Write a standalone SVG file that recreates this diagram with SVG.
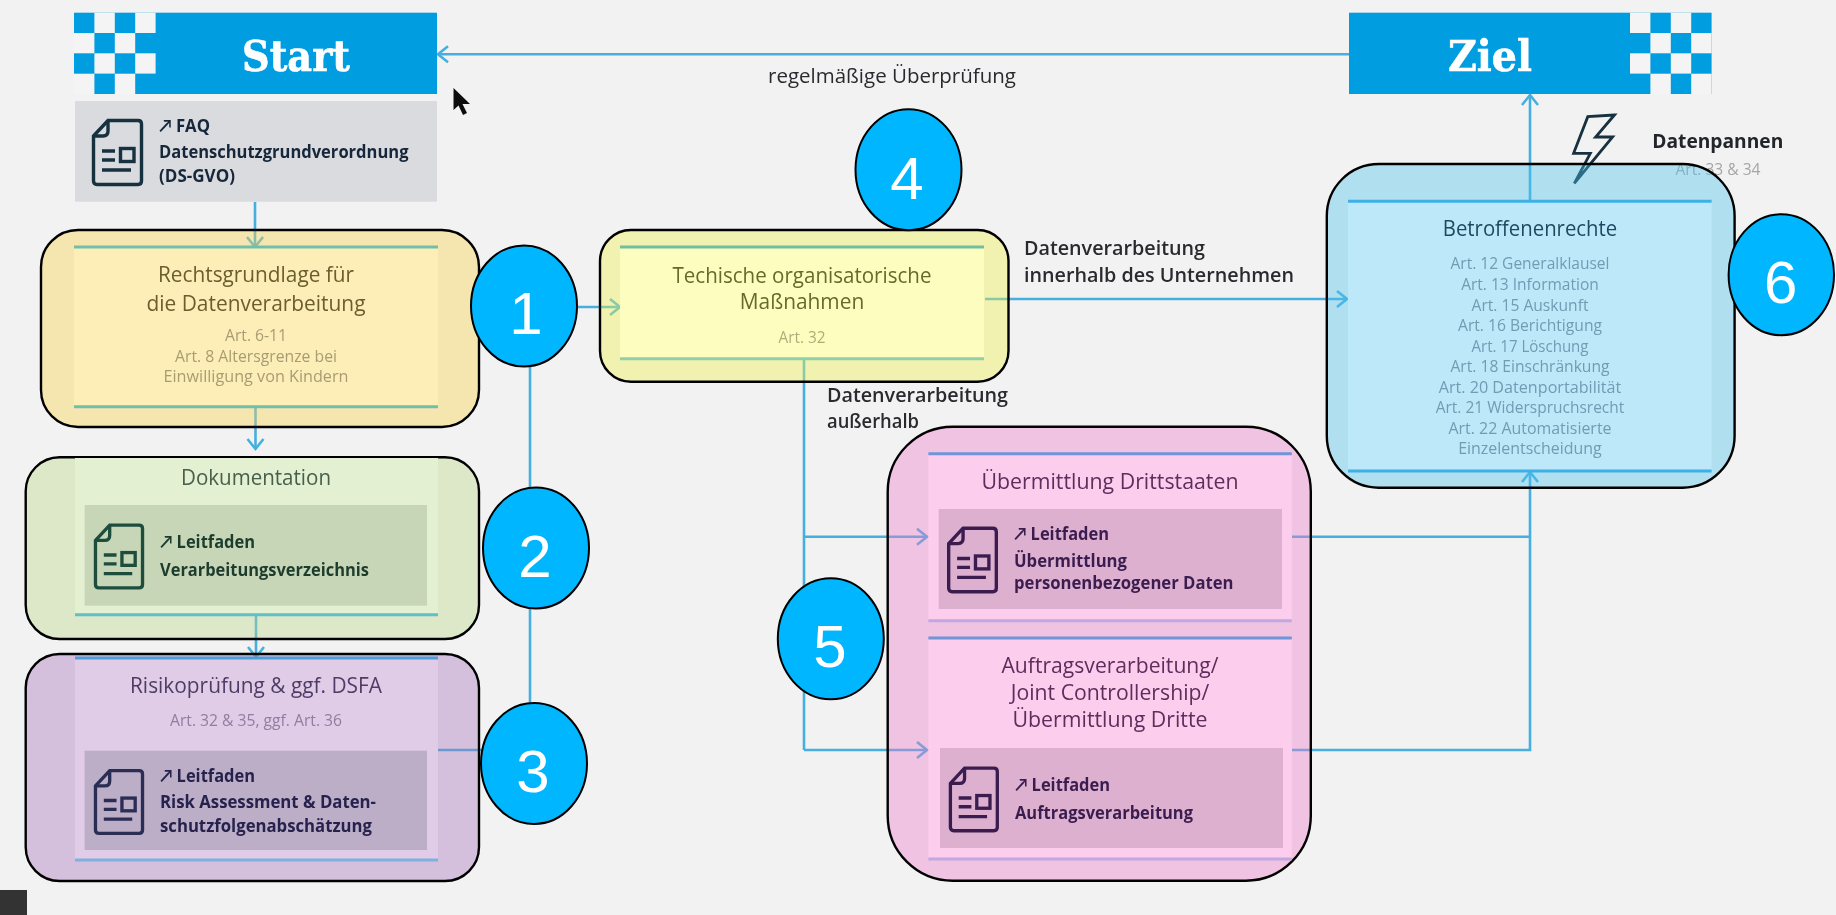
<svg xmlns="http://www.w3.org/2000/svg" xmlns:xlink="http://www.w3.org/1999/xlink" width="1836" height="915" viewBox="0 0 1836 915">
<style>
text{font-family:"Open Sans",Lato,"DejaVu Sans",sans-serif}
.soft{filter:url(#soft)}
.brand{font-family:"DejaVu Serif",serif;font-weight:700;font-size:42px;fill:#fff;stroke:#fff;stroke-width:0.6;text-anchor:middle}
.title{font-size:21px;font-weight:500;text-anchor:middle}
.art{font-size:16px;text-anchor:middle}
.link{font-size:18px;font-weight:700}
.lab{font-size:19px;font-weight:600;fill:#2b2b2f}
.num{font-family:"Liberation Sans",sans-serif;font-size:60px;fill:#fff;text-anchor:middle}
.badge{fill:#00b6ff;stroke:#000;stroke-width:2}
.shell{stroke:#000;stroke-width:2.4}
.conn{fill:none;stroke:#45b0e0;stroke-width:2.6}
.arr{marker-end:url(#chev)}
.rule{stroke-width:3;fill:none}
.icon{fill:none;stroke:currentColor;stroke-width:3.4}
.band{fill:#009de0}
.chk{fill:#f4f4f4}
</style>
<defs>
<filter id="soft" x="-5%" y="-5%" width="110%" height="110%"><feGaussianBlur stdDeviation="0.7"/></filter>
<marker id="chev" markerUnits="userSpaceOnUse" markerWidth="24" markerHeight="24" refX="13" refY="12" orient="auto" overflow="visible">
<path d="M3 4 L13 12 L3 20" fill="none" stroke="#45b0e0" stroke-width="2.6"/>
</marker>
<symbol id="doc" viewBox="0 0 51 67" overflow="visible">
<path class="icon" d="M16 1.5H46Q49.5 1.5 49.5 5V62Q49.5 65.5 46 65.5H5Q1.5 65.5 1.5 62V17Z"/>
<path class="icon" d="M16 1.5V12Q16 17 11 17H1.5"/>
<path class="icon" d="M10 32H23M10 41H23M10 51H39"/>
<rect class="icon" x="28.5" y="29.5" width="13.5" height="13"/>
</symbol>
</defs>
<rect width="1836" height="915" fill="#f2f2f2"/>

<g id="connectors" class="soft">
<path class="conn arr" d="M1349 54.3H438"/>
<path class="conn arr" d="M255 202V247"/>
<path class="conn arr" d="M255.500 407V449"/>
<path class="conn arr" d="M256 615V657"/>
<path class="conn arr" d="M438 750H530V307H620"/>
<path class="conn arr" d="M985 299H1347"/>
<path class="conn" d="M804 359V750"/>
<path class="conn arr" d="M804 536.700H927"/>
<path class="conn arr" d="M804 750H927"/>
<path class="conn" d="M1292 536.700H1530"/>
<path class="conn arr" d="M1292 750H1530V472"/>
<path class="conn arr" d="M1530 201V95"/>
</g>

<g id="start">
<g class="soft">
<rect class="band" x="74" y="12.700" width="363" height="81.300"/>
<g class="chk">
<rect x="94.400" y="12.700" width="20.400" height="20.300"/><rect x="135.200" y="12.700" width="20.400" height="20.300"/>
<rect x="74" y="33" width="20.400" height="20.300"/><rect x="114.800" y="33" width="20.400" height="20.300"/>
<rect x="94.400" y="53.300" width="20.400" height="20.300"/><rect x="135.200" y="53.300" width="20.400" height="20.300"/>
<rect x="74" y="73.700" width="20.400" height="20.300"/><rect x="114.800" y="73.700" width="20.400" height="20.300"/>
</g>
<text class="brand" x="296" y="70.700" textLength="108" lengthAdjust="spacingAndGlyphs">Start</text>
</g>
</g>

<g id="faq" class="soft">
<rect x="75" y="101" width="362" height="100.700" fill="#d9dbde"/>
<use href="#doc" x="92" y="119" width="51" height="67" style="color:#17303f"/>
<g fill="#17263a">
<text class="link" x="159" y="132" textLength="51" lengthAdjust="spacingAndGlyphs">↗ FAQ</text>
<text class="link" x="159" y="158" textLength="249.500" lengthAdjust="spacingAndGlyphs">Datenschutzgrundverordnung</text>
<text class="link" x="159" y="181.700" textLength="76" lengthAdjust="spacingAndGlyphs">(DS-GVO)</text>
</g>
</g>

<g id="node-1">
<rect class="shell" x="41" y="230" width="438" height="197" rx="37" fill="#fad44d" fill-opacity="0.4"/>
<g class="soft">
<rect x="74" y="247" width="364" height="160" fill="#fdeeb8"/>
<path class="rule" stroke="#70bfa8" d="M74 247H438M74 406.700H438"/>
<text class="title" fill="#6b5d2e" x="256" y="281.700" textLength="196" lengthAdjust="spacingAndGlyphs">Rechtsgrundlage für</text>
<text class="title" fill="#6b5d2e" x="256" y="310.700" textLength="219" lengthAdjust="spacingAndGlyphs">die Datenverarbeitung</text>
<g fill="#a89c72">
<text class="art" x="256" y="340.700" textLength="62" lengthAdjust="spacingAndGlyphs">Art. 6-11</text>
<text class="art" x="256" y="361.700" textLength="162" lengthAdjust="spacingAndGlyphs">Art. 8 Altersgrenze bei</text>
<text class="art" x="256" y="382" textLength="185" lengthAdjust="spacingAndGlyphs">Einwilligung von Kindern</text>
</g>
</g>
</g>

<g id="node-2">
<path class="rule soft" stroke="#4db5e0" d="M74 450.700H437"/>
<rect class="shell" x="25.700" y="457.300" width="453.300" height="181.700" rx="34" fill="#bed989" fill-opacity="0.4"/>
<g class="soft">
<rect x="75" y="458" width="363" height="157" fill="#e4f0d2"/>
<path class="rule" stroke="#5fc0c8" d="M75 614.700H438"/>
<rect x="84.600" y="505" width="342.400" height="100.700" fill="#c8d6b8"/>
<text class="title" fill="#46604c" x="256" y="485" textLength="150" lengthAdjust="spacingAndGlyphs">Dokumentation</text>
<use href="#doc" x="94" y="523" width="50" height="67" style="color:#1e4d3c"/>
<g fill="#1f3d2e">
<text class="link" x="160" y="547.700" textLength="95" lengthAdjust="spacingAndGlyphs">↗ Leitfaden</text>
<text class="link" x="160" y="576" textLength="209" lengthAdjust="spacingAndGlyphs">Verarbeitungsverzeichnis</text>
</g>
</g>
</g>

<g id="node-3">
<rect class="shell" x="25.700" y="654" width="453.300" height="227" rx="34" fill="#a775bb" fill-opacity="0.4"/>
<g class="soft">
<rect x="75" y="658" width="363" height="202" fill="#e0cce6"/>
<path class="rule" stroke="#4f9cd8" d="M75 658H438"/>
<path class="rule" stroke="#80b0e0" d="M75 860H438"/>
<rect x="84.600" y="750.700" width="342.400" height="99.300" fill="#bdaec8"/>
<text class="title" fill="#4d3d66" x="256" y="693" textLength="252" lengthAdjust="spacingAndGlyphs">Risikoprüfung &amp; ggf. DSFA</text>
<text class="art" fill="#8f7ea0" x="256" y="726" textLength="172" lengthAdjust="spacingAndGlyphs">Art. 32 &amp; 35, ggf. Art. 36</text>
<use href="#doc" x="94" y="769" width="50" height="66" style="color:#2a2d55"/>
<g fill="#27234d">
<text class="link" x="160" y="781.700" textLength="95" lengthAdjust="spacingAndGlyphs">↗ Leitfaden</text>
<text class="link" x="160" y="807.700" textLength="216" lengthAdjust="spacingAndGlyphs">Risk Assessment &amp; Daten-</text>
<text class="link" x="160" y="831.700" textLength="212" lengthAdjust="spacingAndGlyphs">schutzfolgenabschätzung</text>
</g>
</g>
</g>

<g id="node-4">
<rect class="shell" x="600" y="230" width="408.500" height="151.700" rx="31" fill="#f2f24d" fill-opacity="0.4"/>
<g class="soft">
<rect x="620" y="247" width="364" height="112" fill="#fdfdc0"/>
<path class="rule" stroke="#70c0a0" d="M620 247H984"/>
<path class="rule" stroke="#90d0a8" d="M620 358.700H984"/>
<text class="title" fill="#666a2c" x="802" y="282.700" textLength="259" lengthAdjust="spacingAndGlyphs">Techische organisatorische</text>
<text class="title" fill="#666a2c" x="802" y="309" textLength="124.500" lengthAdjust="spacingAndGlyphs">Maßnahmen</text>
<text class="art" fill="#aeae7a" x="802" y="342.700" textLength="47" lengthAdjust="spacingAndGlyphs">Art. 32</text>
</g>
</g>

<g id="labels" class="soft">
<text class="lab" x="1024" y="255" textLength="181" lengthAdjust="spacingAndGlyphs">Datenverarbeitung</text>
<text class="lab" x="1024" y="281.700" textLength="270" lengthAdjust="spacingAndGlyphs">innerhalb des Unternehmen</text>
<text class="lab" x="827" y="401.700" textLength="181" lengthAdjust="spacingAndGlyphs">Datenverarbeitung</text>
<text class="lab" x="827" y="428" textLength="92" lengthAdjust="spacingAndGlyphs">außerhalb</text>
<text x="892" y="83" text-anchor="middle" font-size="20" fill="#2b2b2f" textLength="248" lengthAdjust="spacingAndGlyphs">regelmäßige Überprüfung</text>
</g>

<g id="node-5">
<rect class="shell" x="887.700" y="426.700" width="423.100" height="454" rx="65" fill="#f07dca" fill-opacity="0.4"/>
<g class="soft">
<rect x="928.400" y="453.700" width="363.400" height="167" fill="#fdcdee"/>
<rect x="928.400" y="638" width="363.400" height="221" fill="#fdcdee"/>
<path class="rule" stroke="#6f94d8" d="M928.400 453.700H1291.800M928.400 638H1291.800"/>
<path class="rule" stroke="#c0a8e0" d="M928.400 620.700H1291.800M928.400 859H1291.800"/>
<rect x="938.700" y="509" width="343.300" height="100" fill="#deb0d0"/>
<rect x="940" y="748" width="343" height="100" fill="#deb0d0"/>
<g fill="#5c2f5c">
<text class="title" x="1110" y="489" textLength="257" lengthAdjust="spacingAndGlyphs">Übermittlung Drittstaaten</text>
<text class="title" x="1110" y="673.300" textLength="217" lengthAdjust="spacingAndGlyphs">Auftragsverarbeitung/</text>
<text class="title" x="1110" y="700" textLength="198.500" lengthAdjust="spacingAndGlyphs">Joint Controllership/</text>
<text class="title" x="1110" y="726.700" textLength="195" lengthAdjust="spacingAndGlyphs">Übermittlung Dritte</text>
</g>
<use href="#doc" x="947" y="526.700" width="51" height="66.500" style="color:#3a1f50"/>
<use href="#doc" x="948.600" y="766.700" width="50.500" height="65.500" style="color:#3a1f50"/>
<g fill="#3a1f50">
<text class="link" x="1014" y="540" textLength="95" lengthAdjust="spacingAndGlyphs">↗ Leitfaden</text>
<text class="link" x="1014" y="566.700" textLength="113" lengthAdjust="spacingAndGlyphs">Übermittlung</text>
<text class="link" x="1014" y="589.300" textLength="219.500" lengthAdjust="spacingAndGlyphs">personenbezogener Daten</text>
<text class="link" x="1015" y="790.700" textLength="95" lengthAdjust="spacingAndGlyphs">↗ Leitfaden</text>
<text class="link" x="1015" y="819" textLength="178" lengthAdjust="spacingAndGlyphs">Auftragsverarbeitung</text>
</g>
</g>
</g>

<g id="ziel" class="soft">
<rect class="band" x="1349" y="12.700" width="362.600" height="81.300"/>
<g class="chk">
<rect x="1630" y="12.700" width="20.400" height="20.300"/><rect x="1670.800" y="12.700" width="20.400" height="20.300"/>
<rect x="1650.400" y="33" width="20.400" height="20.300"/><rect x="1691.200" y="33" width="20.400" height="20.300"/>
<rect x="1630" y="53.300" width="20.400" height="20.300"/><rect x="1670.800" y="53.300" width="20.400" height="20.300"/>
<rect x="1650.400" y="73.700" width="20.400" height="20.300"/><rect x="1691.200" y="73.700" width="20.400" height="20.300"/>
</g>
<text class="brand" x="1490" y="70.700" textLength="84" lengthAdjust="spacingAndGlyphs">Ziel</text>
</g>

<g id="datenpannen" class="soft">
<path d="M1614.400 115L1587.800 116.700L1573.600 153.300H1590.300L1574.300 183.300L1612.600 137H1595.600Z" fill="none" stroke="#17303f" stroke-width="2.800" stroke-linejoin="miter"/>
<text x="1652.300" y="147.700" font-size="19" font-weight="700" fill="#22252b" textLength="131" lengthAdjust="spacingAndGlyphs">Datenpannen</text>
<text class="art" x="1718" y="175" fill="#a6a6a6" textLength="85" lengthAdjust="spacingAndGlyphs">Art. 33 &amp; 34</text>
</g>

<g id="node-6">
<rect class="shell" x="1326.800" y="164" width="407.800" height="323.700" rx="52" fill="#4dc3ed" fill-opacity="0.4"/>
<g class="soft">
<rect x="1348" y="201.300" width="363.600" height="269.700" fill="#bde8f9"/>
<path class="rule" stroke="#3eb0e6" d="M1348 201.300H1711.600M1348 471H1711.600"/>
<text class="title" fill="#1f4a60" x="1530" y="236" textLength="174.500" lengthAdjust="spacingAndGlyphs">Betroffenenrechte</text>
<g fill="#6f9cb4">
<text class="art" x="1530" y="269.300" textLength="159" lengthAdjust="spacingAndGlyphs">Art. 12 Generalklausel</text>
<text class="art" x="1530" y="290" textLength="137.600" lengthAdjust="spacingAndGlyphs">Art. 13 Information</text>
<text class="art" x="1530" y="310.700" textLength="117" lengthAdjust="spacingAndGlyphs">Art. 15 Auskunft</text>
<text class="art" x="1530" y="331" textLength="144" lengthAdjust="spacingAndGlyphs">Art. 16 Berichtigung</text>
<text class="art" x="1530" y="351.700" textLength="117" lengthAdjust="spacingAndGlyphs">Art. 17 Löschung</text>
<text class="art" x="1530" y="372" textLength="159" lengthAdjust="spacingAndGlyphs">Art. 18 Einschränkung</text>
<text class="art" x="1530" y="392.700" textLength="182.600" lengthAdjust="spacingAndGlyphs">Art. 20 Datenportabilität</text>
<text class="art" x="1530" y="413.300" textLength="188.600" lengthAdjust="spacingAndGlyphs">Art. 21 Widerspruchsrecht</text>
<text class="art" x="1530" y="434" textLength="163" lengthAdjust="spacingAndGlyphs">Art. 22 Automatisierte</text>
<text class="art" x="1530" y="454.300" textLength="143.600" lengthAdjust="spacingAndGlyphs">Einzelentscheidung</text>
</g>
</g>
</g>

<g id="badge-1"><ellipse class="badge" cx="524" cy="306" rx="53" ry="60.500"/><text class="num" x="526" y="334">1</text></g>
<g id="badge-2"><ellipse class="badge" cx="536" cy="548" rx="53" ry="60.500"/><text class="num" x="535" y="576.700">2</text></g>
<g id="badge-3"><ellipse class="badge" cx="534" cy="763.500" rx="53" ry="60.500"/><text class="num" x="533" y="792">3</text></g>
<g id="badge-4"><ellipse class="badge" cx="908.500" cy="169.700" rx="53" ry="60.500"/><text class="num" x="907" y="198.700">4</text></g>
<g id="badge-5"><ellipse class="badge" cx="830.800" cy="638.800" rx="53" ry="60.500"/><text class="num" x="830" y="667">5</text></g>
<g id="badge-6"><ellipse class="badge" cx="1781.300" cy="274.700" rx="52.700" ry="60.500"/><text class="num" x="1780.700" y="302.700">6</text></g>

<path id="cursor" d="M453.500 88V110L458.500 105.500L463 115L467 113L462.500 104H470Z" fill="#111" class="soft"/>
<rect id="corner-block" x="0" y="890" width="27" height="25" fill="#333"/>
</svg>
